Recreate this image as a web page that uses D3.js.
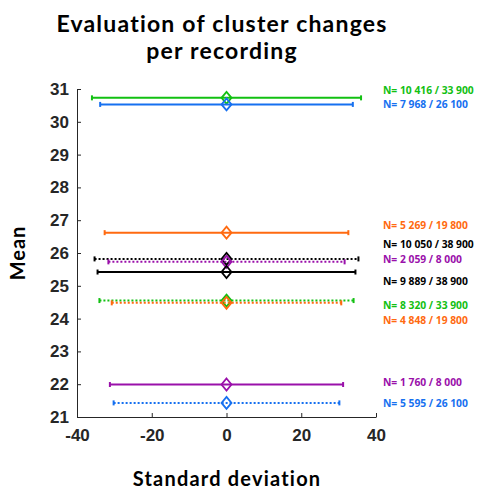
<!DOCTYPE html>
<html>
<head>
<meta charset="utf-8">
<script src="https://cdn.jsdelivr.net/npm/d3@7"></script>
<style>
  html, body { margin: 0; padding: 0; background: #fff; }
  svg { display: block; }
</style>
</head>
<body>
<svg id="chart" width="493" height="492"></svg>
<script>
// Series: mean, standard deviation, colour, line style, annotation
const series = ["g1", "b1", "o1", "k2", "p2", "k1", "g2", "o2", "p1", "b2"];
const means = [30.73, 30.53, 26.62, 25.82, 25.73, 25.42, 24.55, 24.48, 21.99, 21.43];
const sds = [36.0, 33.8, 32.6, 35.3, 31.6, 34.5, 34.0, 30.7, 31.2, 30.2];
const colors = ["#12c012", "#1670f0", "#ff6a10", "#000000", "#9a10aa", "#000000", "#12c012", "#ff6a10", "#9a10aa", "#1670f0"];
const dotted = [false, false, false, true, true, false, true, true, false, true];
const labels = ["N= 10 416 / 33 900", "N= 7 968 / 26 100", "N= 5 269 / 19 800", "N= 10 050 / 38 900",
  "N= 2 059 / 8 000", "N= 9 889 / 38 900", "N= 8 320 / 33 900", "N= 4 848 / 19 800",
  "N= 1 760 / 8 000", "N= 5 595 / 26 100"];
const labelMeans = [30.95, 30.53, 26.85, 26.27, 25.79, 25.12, 24.41, 23.96, 22.04, 21.43];
const xTicks = [-40, -20, 0, 20, 40];
const yTicks = [21, 22, 23, 24, 25, 26, 27, 28, 29, 30, 31];

const svg = d3.select("#chart");
const x = d3.scaleLinear().domain([-40, 40]).range([77, 376]);
const y = d3.scaleLinear().domain([21, 31]).range([417, 89]);

const axisColor = "#262626";
const tickFont = "bold 17px 'Liberation Sans', Arial, sans-serif";
const fmt = d => String(d);

// Axes (ticks pointing inward)
const gx = svg.append("g").attr("transform", `translate(0,${y(21)})`)
  .call(d3.axisBottom(x).tickValues(xTicks).tickFormat(fmt).tickSize(-4).tickPadding(12).tickSizeOuter(0));
const gy = svg.append("g").attr("transform", `translate(${x(-40)},0)`)
  .call(d3.axisLeft(y).tickValues(yTicks).tickFormat(fmt).tickSize(-4).tickPadding(8).tickSizeOuter(0));
[gx, gy].forEach(g => {
  g.select(".domain").attr("stroke", axisColor).attr("stroke-width", 1);
  g.selectAll(".tick line").attr("stroke", axisColor).attr("stroke-width", 1);
  g.selectAll(".tick text").attr("fill", "#262626").style("font", tickFont);
});
gx.selectAll(".tick text").attr("dy", "0.71em");

// Error bars and markers
const idx = d3.range(series.length);
const bars = svg.append("g").selectAll("g").data(idx).join("g");
bars.append("line")
  .attr("x1", i => x(-sds[i])).attr("x2", i => x(sds[i]))
  .attr("y1", i => y(means[i])).attr("y2", i => y(means[i]))
  .attr("stroke", i => colors[i]).attr("stroke-width", 2)
  .attr("stroke-dasharray", i => dotted[i] ? "2,2" : null);
// end caps
bars.each(function(i) {
  const g = d3.select(this);
  [-sds[i], sds[i]].forEach(v => {
    g.append("line")
      .attr("x1", x(v)).attr("x2", x(v))
      .attr("y1", y(means[i]) - 2.5).attr("y2", y(means[i]) + 2.5)
      .attr("stroke", colors[i]).attr("stroke-width", 2);
  });
});
// diamond markers at the mean
bars.append("path")
  .attr("d", i => {
    const cx = x(0), cy = y(means[i]);
    return `M${cx},${cy - 6}L${cx + 5},${cy}L${cx},${cy + 6}L${cx - 5},${cy}Z`;
  })
  .attr("fill", "none").attr("stroke", i => colors[i]).attr("stroke-width", 1.8);

// Sample-size annotations
svg.append("g").selectAll("text").data(idx).join("text")
  .attr("x", 383).attr("y", i => y(labelMeans[i]))
  .attr("dy", "0.35em")
  .attr("fill", i => colors[i])
  .style("font", "bold 10.3px 'Open Sans', sans-serif")
  .text(i => labels[i]);

// Title and axis labels
const titleFont = "bold 23px Lato, 'Open Sans', sans-serif";
svg.append("text").attr("x", 222).attr("y", 32).attr("text-anchor", "middle")
  .style("font", titleFont).style("letter-spacing", "1.2px").text("Evaluation of cluster changes");
svg.append("text").attr("x", 222).attr("y", 59).attr("text-anchor", "middle")
  .style("font", titleFont).style("letter-spacing", "1.2px").text("per recording");
svg.append("text").attr("transform", "translate(25,253) rotate(-90)").attr("text-anchor", "middle")
  .style("font", "bold 20px Lato, 'Open Sans', sans-serif").style("letter-spacing", "1px").text("Mean");
svg.append("text").attr("x", 227).attr("y", 486).attr("text-anchor", "middle")
  .style("font", "bold 20px Lato, 'Open Sans', sans-serif").style("letter-spacing", "1.2px").text("Standard deviation");
</script>
</body>
</html>
